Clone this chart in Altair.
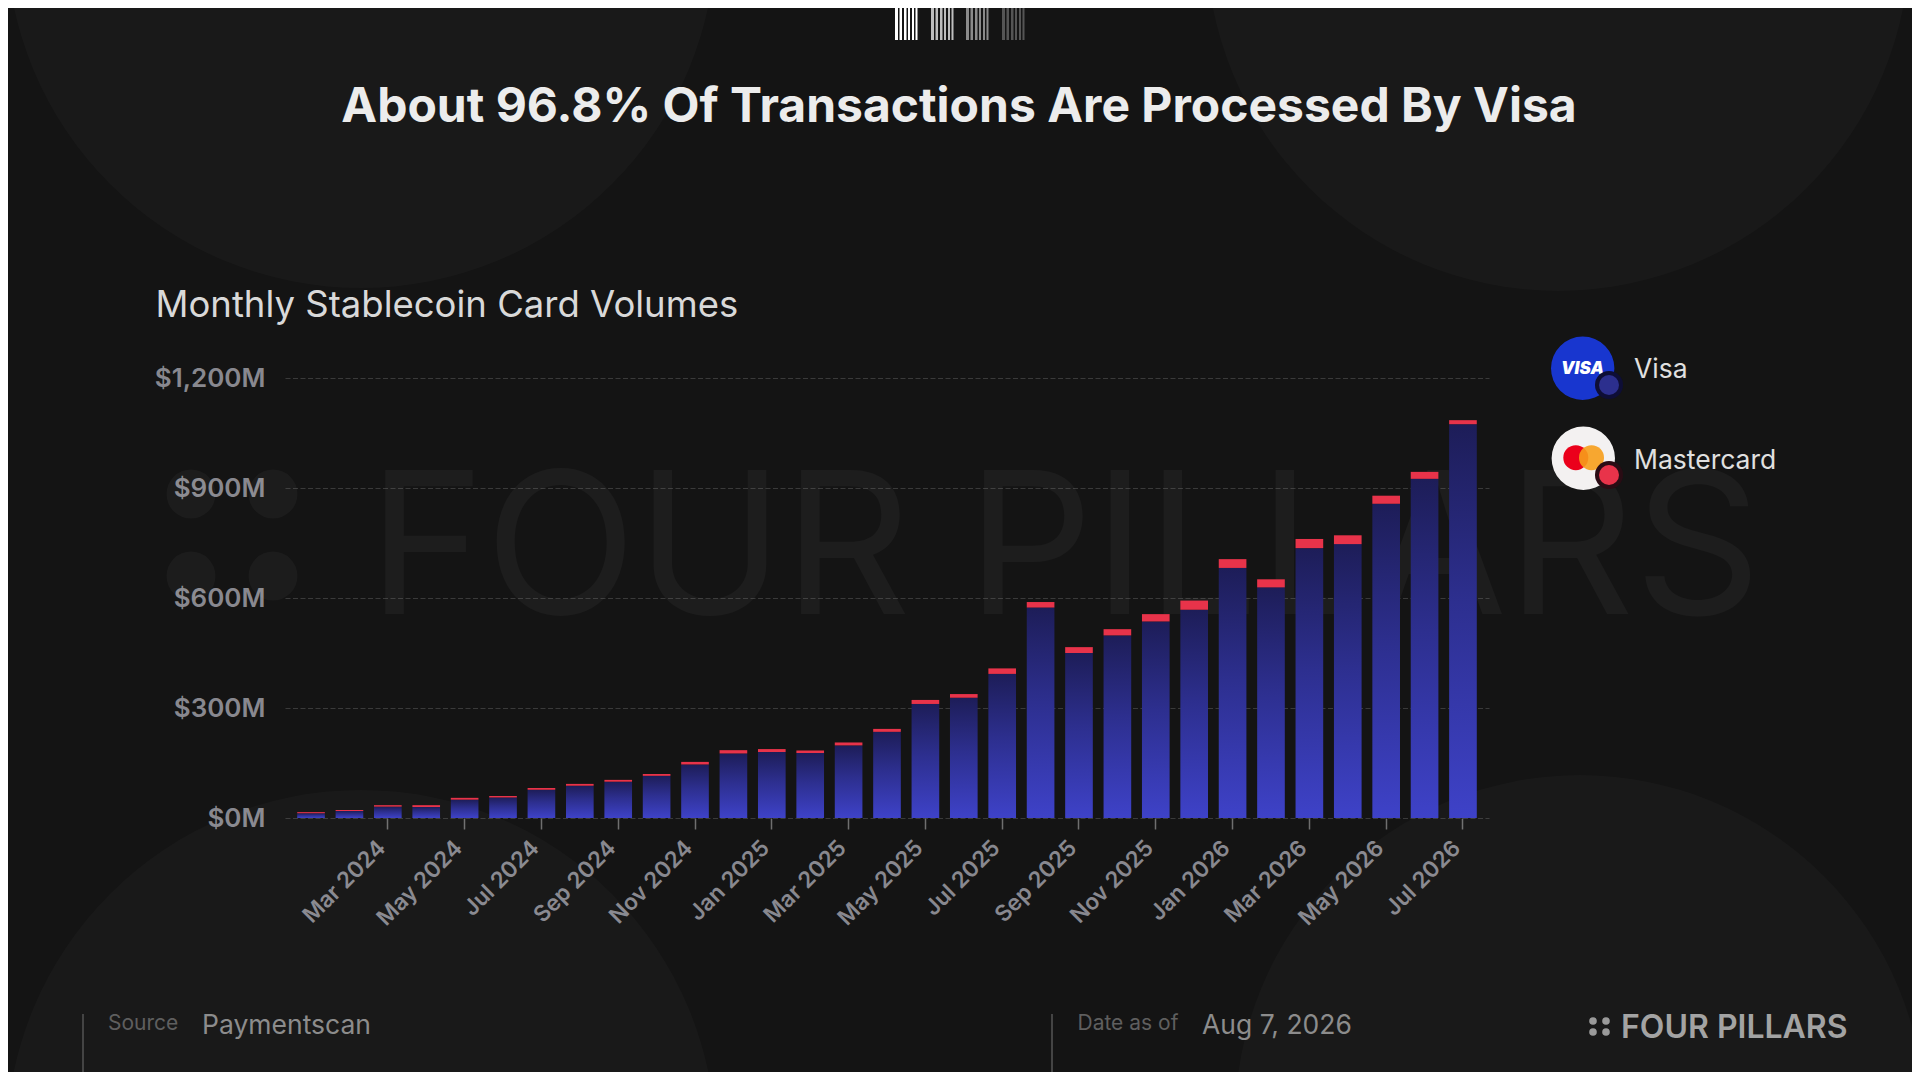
import altair as alt
import pandas as pd

# ---------------- data ----------------
months = [
    "Jan 2024", "Feb 2024", "Mar 2024", "Apr 2024", "May 2024", "Jun 2024",
    "Jul 2024", "Aug 2024", "Sep 2024", "Oct 2024", "Nov 2024", "Dec 2024",
    "Jan 2025", "Feb 2025", "Mar 2025", "Apr 2025", "May 2025", "Jun 2025",
    "Jul 2025", "Aug 2025", "Sep 2025", "Oct 2025", "Nov 2025", "Dec 2025",
    "Jan 2026", "Feb 2026", "Mar 2026", "Apr 2026", "May 2026", "Jun 2026",
    "Jul 2026",
]
visa = [13, 19, 31, 30, 50, 56, 77, 88, 99, 115, 146, 176, 180, 177, 198, 235,
        311, 328, 393, 574, 450, 498, 536, 568, 682, 629, 736, 747, 857, 925, 1074]
mastercard = [3, 3, 4, 5, 5, 4, 5, 5, 5, 5, 7, 9, 8, 7, 8, 8,
              11, 10, 15, 15, 16, 17, 20, 25, 24, 22, 25, 24, 22, 19, 11]
tick_months = ["Mar 2024", "May 2024", "Jul 2024", "Sep 2024", "Nov 2024",
               "Jan 2025", "Mar 2025", "May 2025", "Jul 2025", "Sep 2025",
               "Nov 2025", "Jan 2026", "Mar 2026", "May 2026", "Jul 2026"]
y_ticks = [0, 300, 600, 900, 1200]

df = pd.DataFrame({"month": months, "visa": visa, "mastercard": mastercard})
df["total"] = df["visa"] + df["mastercard"]

one = pd.DataFrame({"k": [0]})

FONT = "Inter"
BG = "#141414"
GRAY = "#88888f"
W, H = 1204, 440


# ---------------- helpers for decorations ----------------
def text(txt, x, y, size, color, weight="normal", align="left",
         baseline="alphabetic", opacity=1.0, style=None):
    kw = dict(text=txt, fontSize=size, font=FONT, color=color, fontWeight=weight,
              align=align, baseline=baseline, opacity=opacity)
    if style:
        kw["fontStyle"] = style
    return alt.Chart(one).mark_text(**kw).encode(x=alt.value(x), y=alt.value(y))


def dot(x, y, d, color, opacity=1.0):
    return alt.Chart(one).mark_circle(size=d * d, color=color, opacity=opacity).encode(
        x=alt.value(x), y=alt.value(y))


def vline(x, y1, y2, color, w):
    return alt.Chart(one).mark_rule(color=color, strokeWidth=w).encode(
        x=alt.value(x), y=alt.value(y1), y2=alt.value(y2))


def rect(x1, x2, y1, y2, color):
    return alt.Chart(one).mark_rect(color=color).encode(
        x=alt.value(x1), x2=alt.value(x2), y=alt.value(y1), y2=alt.value(y2))


# background circles & watermark
deco = [
    dot(76, -445, 710, "#ffffff", 0.025),
    dot(1273, -439, 704, "#ffffff", 0.025),
    dot(76, 767, 710, "#ffffff", 0.025),
    dot(1295, 742, 690, "#ffffff", 0.025),
    text("FOUR PILLARS", 83, 236, 198, "#ffffff", opacity=0.035),
    dot(-94, 116, 49, "#ffffff", 0.035),
    dot(-12, 116, 49, "#ffffff", 0.035),
    dot(-94, 198, 49, "#ffffff", 0.035),
    dot(-12, 198, 49, "#ffffff", 0.035),
]

# ---------------- chart ----------------
x_enc = alt.X(
    "month:O", sort=months, title=None,
    scale=alt.Scale(paddingInner=0.28, paddingOuter=0.318, align=0.5),
    axis=alt.Axis(values=tick_months, labelAngle=315, labelAlign="right",
                  labelBaseline="middle", labelPadding=15, labelOffset=-6,
                  labelFont=FONT, labelFontSize=22.5, labelFontWeight=600,
                  labelColor=GRAY, labelOverlap=False, labelBound=False,
                  tickSize=11, tickColor="#6e6e6e", tickWidth=1.5,
                  domain=False, grid=False),
)
y_axis = alt.Axis(values=y_ticks, labelExpr="'$' + format(datum.value, ',') + 'M'",
                  grid=True, gridColor="#3a3a3a", gridDash=[5, 2.5], gridWidth=1,
                  domain=False, ticks=False, labelPadding=20, labelFont=FONT,
                  labelFontSize=26, labelFontWeight=600, labelColor=GRAY)
y_scale = alt.Scale(domain=[0, 1200], nice=False)

visa_grad = alt.Gradient(
    gradient="linear", x1=0, x2=0, y1=0, y2=1,
    stops=[alt.GradientStop(color="#1d1d58", offset=0),
           alt.GradientStop(color="#2d2f8f", offset=0.45),
           alt.GradientStop(color="#3e42c8", offset=1)],
)

visa_bars = alt.Chart(df).mark_bar(color=visa_grad).encode(
    x=x_enc, y=alt.Y("visa:Q", scale=y_scale, axis=y_axis, title=None))
mc_bars = alt.Chart(df).mark_bar(color="#e8334a").encode(
    x=x_enc, y=alt.Y("visa:Q", scale=y_scale, axis=y_axis, title=None), y2="total:Q")

# titles
labels = [
    text("About 96.8% Of Transactions Are Processed By Visa", 674, -256, 48,
         "#ececec", weight=700, align="center"),
    text("Monthly Stablecoin Card Volumes", -129.5, -61, 36.5, "#d9d9d9"),
]

# legend
legend = [
    dot(1297.7, -9.7, 63.4, "#1836cf"),
    text("VISA", 1297.5, -9, 17, "#ffffff", weight=900, align="center",
         baseline="middle", style="italic"),
    dot(1324, 7, 28, "#0e0e36"),
    dot(1324, 7, 20, "#2c2f8e"),
    text("Visa", 1349, 0.3, 26.5, "#e0e0e0"),
    dot(1298.3, 80.3, 63.4, "#f3f1f1"),
    dot(1290.8, 79.7, 25, "#eb001b"),
    dot(1306.5, 79.7, 25, "#f79e1b", 0.9),
    dot(1324, 97, 28, "#2a0c14"),
    dot(1324, 97, 20, "#e8334a"),
    text("Mastercard", 1349, 91, 26.5, "#e0e0e0"),
]

# footer
footer = [
    vline(-202, 636, 702, "#444444", 2),
    text("Source", -177, 652, 21, "#5f5f5f"),
    text("Paymentscan", -83, 656, 26.5, "#8c8c8c"),
    vline(767, 636, 702, "#444444", 2),
    text("Date as of", 792.5, 652, 21, "#5f5f5f"),
    text("Aug 7, 2026", 917, 656, 26.5, "#8c8c8c"),
    dot(1308, 643, 7.6, "#9a9a9a"),
    dot(1321, 643, 7.6, "#9a9a9a"),
    dot(1308, 654, 7.6, "#9a9a9a"),
    dot(1321, 654, 7.6, "#9a9a9a"),
    text("FOUR PILLARS", 1336, 660, 32, "#a3a3a3", weight=600),
]

# top barcode logo
barcode = []
group_starts = [895, 931, 966, 1002]
group_colors = ["#ffffff", "#bdbdbd", "#8a8a8a", "#555555"]
stripe_offsets = [0, 4.5, 9, 13, 17, 20.5]
stripe_widths = [3, 2.5, 2.5, 2, 2, 2]
for gs, gc in zip(group_starts, group_colors):
    for so, sw in zip(stripe_offsets, stripe_widths):
        x0 = gs + so - 285
        barcode.append(rect(x0, x0 + sw, -372, -338, gc))

chart = alt.layer(
    *deco, visa_bars, mc_bars, *labels, *legend, *footer, *barcode
).properties(
    width=W, height=H,
    autosize=alt.AutoSizeParams(type="none"),
    padding={"left": 277, "top": 370, "right": 423, "bottom": 254},
    background=BG,
).configure_view(stroke=None)

chart.save("out.html", embed_options={"renderer": "svg", "actions": False})
